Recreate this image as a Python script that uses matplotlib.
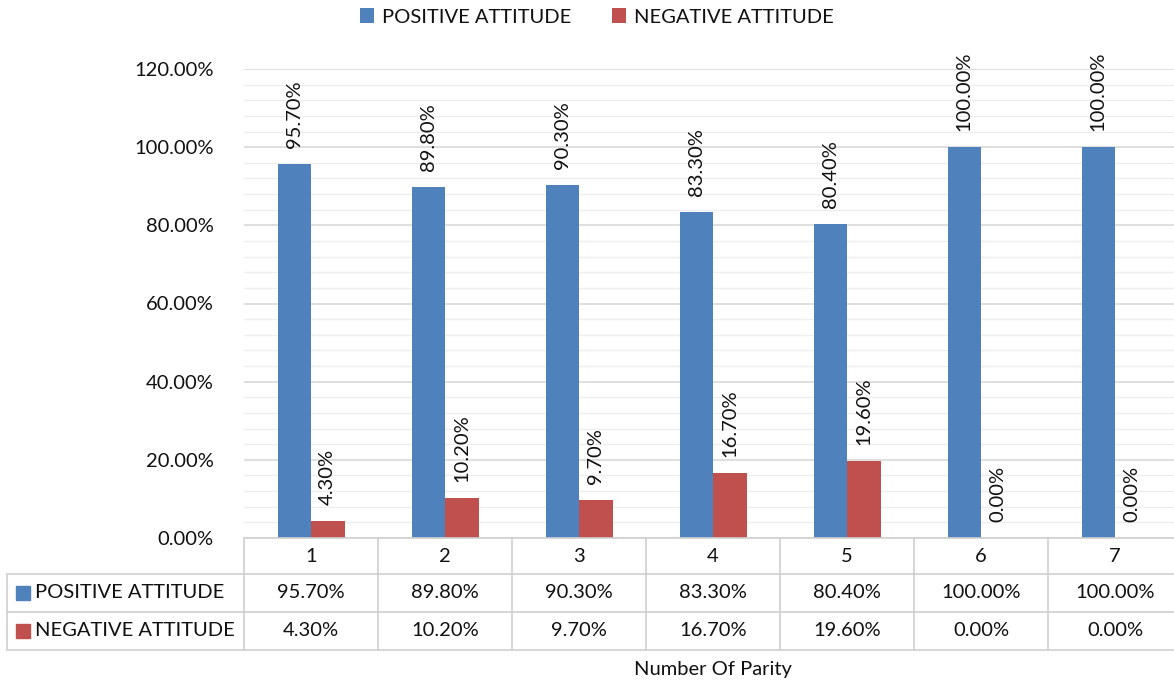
import matplotlib.pyplot as plt
from matplotlib.transforms import blended_transform_factory
from matplotlib.lines import Line2D
import numpy as np

# data
parity = ['1', '2', '3', '4', '5', '6', '7']
positive = [95.70, 89.80, 90.30, 83.30, 80.40, 100.00, 100.00]
negative = [4.30, 10.20, 9.70, 16.70, 19.60, 0.00, 0.00]
series_names = ['POSITIVE ATTITUDE', 'NEGATIVE ATTITUDE']
colors = ['#4f81bd', '#c0504d']

plt.rcParams['font.family'] = ['Lato', 'DejaVu Sans']
txt = '#111111'
fs = 14.5

W, H = 1174, 685
fig = plt.figure(figsize=(W / 100, H / 100), dpi=100)

def fx(px):
    return px / W

def fy(py):
    return 1 - py / H

# plot area: 120% at y=69, 0% at y=538, x from 244 to 1182
ax = fig.add_axes([fx(244), fy(538), fx(1182) - fx(244), fy(69) - fy(538)])
x = np.arange(len(parity))
bw = 0.25
ax.bar(x - bw / 2, positive, bw, color=colors[0], label=series_names[0])
ax.bar(x + bw / 2, negative, bw, color=colors[1], label=series_names[1])

ax.set_xlim(-0.5, len(parity) - 0.5)
ax.set_ylim(0, 120)
ax.set_yticks(np.arange(0, 121, 20))
ax.set_yticks(np.arange(0, 121, 4), minor=True)
ax.set_yticklabels([f'{v:.2f}%' for v in np.arange(0, 121, 20)], fontsize=fs, color=txt)
ax.set_xticks([])
ax.tick_params(axis='y', which='both', length=0, pad=22)
ax.grid(axis='y', which='major', color='#d9d9d9', lw=1.2)
ax.grid(axis='y', which='minor', color='#eeeeee', lw=1.0)
ax.set_axisbelow(True)
for s in ax.spines.values():
    s.set_visible(False)

# data labels, rotated
for i in range(len(parity)):
    for off, vals in ((-bw / 2, positive), (bw / 2, negative)):
        ax.annotate(f'{vals[i]:.2f}%', (x[i] + off, vals[i]), xytext=(0, 11.5),
                    textcoords='offset points', rotation=90, ha='center', va='bottom',
                    fontsize=fs, color=txt, annotation_clip=False)

# legend on top
leg = fig.legend(loc='center', bbox_to_anchor=(fx(597), fy(17)), ncol=2, frameon=False,
                 fontsize=fs, handlelength=0.7, handleheight=0.7, handletextpad=0.4,
                 columnspacing=2.0)
for t in leg.get_texts():
    t.set_color(txt)

# data table below the plot
bt = blended_transform_factory(ax.transData, fig.transFigure)
lc = '#d0d0d0'
row_y = [538, 574, 612, 650]
right = len(parity) - 0.5
# horizontal lines
fig.add_artist(Line2D([-0.5, right], [fy(538)] * 2, transform=bt, color=lc, lw=1.2))
for yy in row_y[1:]:
    fig.add_artist(Line2D([fx(7), fx(244)], [fy(yy)] * 2, transform=fig.transFigure, color=lc, lw=1.2))
    fig.add_artist(Line2D([-0.5, right], [fy(yy)] * 2, transform=bt, color=lc, lw=1.2))
# vertical lines
fig.add_artist(Line2D([fx(7), fx(7)], [fy(574), fy(650)], transform=fig.transFigure, color=lc, lw=1.2))
for b in np.arange(-0.5, len(parity), 1.0):
    fig.add_artist(Line2D([b, b], [fy(538), fy(650)], transform=bt, color=lc, lw=1.2))

# header and values
for i, p in enumerate(parity):
    fig.text(x[i], fy(556), p, transform=bt, ha='center', va='center', fontsize=fs, color=txt)
    fig.text(x[i], fy(593), f'{positive[i]:.2f}%', transform=bt, ha='center', va='center', fontsize=fs, color=txt)
    fig.text(x[i], fy(631), f'{negative[i]:.2f}%', transform=bt, ha='center', va='center', fontsize=fs, color=txt)

# row labels with colour keys
for name, c, yy in zip(series_names, colors, [593, 631]):
    fig.patches.append(plt.Rectangle((fx(16), fy(yy + 7)), fx(14), fy(0) - fy(14),
                                     transform=fig.transFigure, color=c, figure=fig))
    fig.text(fx(35), fy(yy), name, ha='left', va='center', fontsize=fs, color=txt)

fig.text(fx(713), fy(670), 'Number Of Parity', ha='center', va='center', fontsize=fs, color=txt)

fig.savefig('out.png', dpi=100)
